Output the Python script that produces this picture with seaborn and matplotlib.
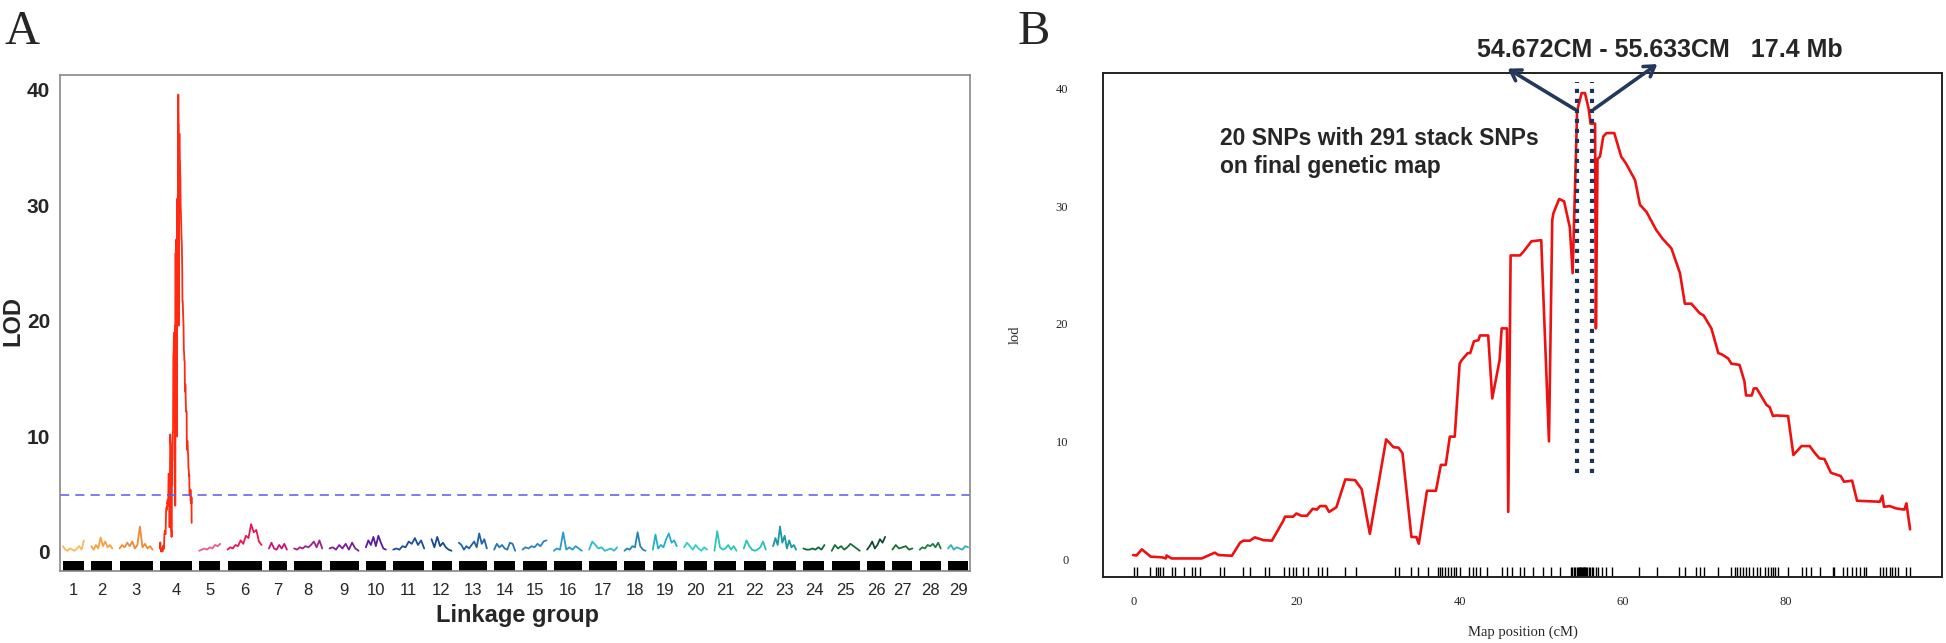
import numpy as np
import pandas as pd
import matplotlib.pyplot as plt
import seaborn as sns

# ---------------- panel B data: LOD profile on linkage group 4 ----------------
qtl_pos = [0, 0.4, 1.06, 2.15, 3.5, 4.0, 4.1, 4.7, 8.4, 9.2,
           10.0, 10.45, 12.1, 13.1, 13.5, 14.3, 14.9, 16.0, 17.0, 18.4,
           18.6, 19.6, 20.0, 20.6, 21.3, 22.0, 22.5, 22.9, 23.6, 24.0,
           24.9, 26.0, 27.2, 28.0, 29.0, 31.0, 31.9, 32.5, 33.0, 34.1,
           34.7, 35.0, 36.0, 37.1, 37.7, 38.3, 38.8, 39.4, 40.0, 40.25,
           41.0, 41.3, 41.75, 42.3, 42.5, 43.5, 44.0, 44.9, 45.15, 45.8,
           45.96, 46.25, 47.4, 47.8, 48.8, 50.0, 50.95, 51.35, 51.5, 52.2,
           52.8, 53.5, 53.85, 54.4, 54.95, 55.36, 55.8, 56.05, 56.6, 56.7,
           56.9, 57.2, 57.6, 58.0, 58.95, 59.8, 60.4, 61.5, 62.1, 62.9,
           64.1, 64.9, 65.95, 67.0, 67.6, 68.4, 69.4, 69.9, 70.85, 71.7,
           72.1, 72.9, 73.3, 74.3, 74.9, 75.1, 75.8, 76.05, 76.4, 77.0,
           77.6, 78.0, 78.4, 78.8, 80.25, 80.9, 81.9, 82.9, 83.5, 84.1,
           84.7, 85.5, 86.7, 87.1, 88.1, 88.7, 91.5, 91.8, 92.0, 92.7,
           93.5, 94.5, 94.75, 95.2]
qtl_lod = [0.34, 0.3, 0.82, 0.2, 0.15, 0.05, 0.3, 0.05, 0.05, 0.3,
           0.54, 0.34, 0.28, 1.39, 1.56, 1.56, 1.84, 1.6, 1.56, 3.26,
           3.6, 3.6, 3.87, 3.68, 3.68, 4.27, 4.2, 4.5, 4.5, 4.0,
           4.4, 6.77, 6.7, 5.93, 2.14, 10.17, 9.5, 9.47, 9.0, 1.87,
           1.87, 1.3, 5.8, 5.8, 8.0, 8.0, 10.4, 10.4, 16.6, 16.9,
           17.5, 17.5, 18.5, 18.6, 19.0, 19.0, 13.65, 16.9, 19.6, 19.6,
           4.0, 25.8, 25.8, 26.1, 27.0, 27.1, 10.0, 28.8, 29.4, 30.6,
           30.4, 28.2, 24.3, 38.1, 39.6, 39.6, 38.3, 37.0, 37.0, 19.6,
           34.0, 34.2, 35.9, 36.2, 36.2, 34.2, 33.6, 32.2, 30.1, 29.5,
           27.95, 27.2, 26.4, 24.3, 21.7, 21.7, 20.9, 20.7, 19.6, 17.5,
           17.4, 17.05, 16.6, 16.5, 15.1, 13.9, 13.9, 14.5, 14.5, 13.8,
           13.1, 12.9, 12.15, 12.2, 12.15, 8.84, 9.6, 9.6, 9.03, 8.55,
           8.5, 7.33, 7.05, 6.57, 6.66, 4.95, 4.87, 5.38, 4.44, 4.5,
           4.3, 4.2, 4.73, 2.52]
marker_pos = [0.04, 0.45, 2.08, 2.82, 3.1, 3.3, 3.7, 4.7, 5.1, 6.2, 7.2, 7.6, 8.2,
              10.6, 11.1, 13.5, 14.3, 16.2, 16.7, 18.5, 19.1, 19.6, 20.0, 20.8,
              21.4, 22.6, 23.1, 23.7, 26.0, 27.3, 32.1, 32.6, 34.1, 34.9, 36.1,
              37.3, 37.6, 37.9, 38.2, 38.6, 38.9, 39.3, 39.6, 40.0, 41.2, 41.6,
              42.0, 42.5, 43.4, 45.2, 45.8, 46.4, 47.4, 47.9, 49.0, 50.2, 51.2,
              52.3, 53.6, 53.8, 54.0, 54.2, 54.4, 54.5, 54.6, 54.7, 54.8, 54.9,
              55.0, 55.1, 55.2, 55.3, 55.4, 55.5, 55.6, 55.8, 56.0, 56.2, 56.4,
              56.7, 57.0, 57.4, 57.9, 58.7, 62.0, 64.2, 66.9, 67.6, 69.0, 69.4,
              69.9, 71.7, 73.3, 73.7, 74.0, 74.3, 74.7, 75.1, 75.5, 76.0, 76.4,
              76.8, 77.4, 77.8, 78.1, 78.4, 78.7, 79.0, 80.3, 82.0, 82.5, 83.1,
              84.2, 85.7, 85.9, 87.0, 87.5, 88.1, 88.6, 89.1, 89.5, 89.8, 91.5,
              91.9, 92.3, 92.7, 93.0, 93.3, 93.7, 94.7, 95.2]
interval_cm = [54.4, 56.2]
interval_label = "54.672CM - 55.633CM   17.4 Mb"
snp_label = "20 SNPs with 291 stack SNPs\non final genetic map"

# ---------------- panel A data: genome-wide scan ----------------
lg_names = [str(i) for i in range(1, 30)]
lg_lengths = [63, 63, 99, 96, 63, 102, 54, 84, 87, 60, 93, 60, 84, 63, 72,
              84, 84, 63, 72, 69, 66, 66, 69, 63, 84, 54, 60, 63, 60]
lg_gap = 22
lod_threshold = 4.9
lg_colors = ['#f8b95a', '#f5a23f', '#f08a35', '#ff2a12', '#ef5a86', '#e8174c',
             '#c8147a', '#a0208a', '#7a2090', '#5a1e9a', '#1f4e9a', '#1a4a8c',
             '#2062a8', '#2476b8', '#2a84be', '#2a9ac8', '#30bcc8', '#2585b5',
             '#22b0c8', '#30d0c8', '#28c8b8', '#28c2b8', '#1a9aa0', '#0e6a3a',
             '#16703e', '#124a3a', '#1a6e3a', '#1e7a40', '#30b0c0']

lod_lg01 = [0.5, 0.2, 0.1, 0.3, 0.2, 0.1, 0.3, 0.5, 0.2, 1.0]
lod_lg02 = [0.5, 0.2, 0.6, 0.3, 1.25, 0.5, 0.9, 0.4, 0.6, 0.3]
lod_lg03 = [0.3, 0.6, 0.4, 0.8, 0.5, 0.9, 0.3, 0.6, 2.2, 0.4, 0.7, 0.3, 0.5, 0.2]
lod_lg05 = [0.1, 0.2, 0.3, 0.2, 0.4, 0.3, 0.6, 0.5, 0.7]
lod_lg06 = [0.2, 0.4, 0.3, 0.6, 0.5, 1.0, 0.7, 1.4, 1.2, 2.4, 1.7, 1.9, 0.9, 0.6]
lod_lg07 = [0.3, 0.8, 0.3, 0.2, 0.6, 0.3, 0.7, 0.2]
lod_lg08 = [0.3, 0.2, 0.4, 0.3, 0.5, 0.4, 0.6, 0.9, 0.4, 1.0, 0.3]
lod_lg09 = [0.3, 0.4, 0.2, 0.6, 0.3, 0.7, 0.2, 0.8, 0.3, 0.1]
lod_lg10 = [0.4, 1.0, 0.6, 1.3, 0.5, 1.4, 0.8, 0.3, 0.2]
lod_lg11 = [0.2, 0.3, 0.2, 0.5, 0.4, 0.9, 0.7, 1.2, 0.6, 1.0, 0.3]
lod_lg12 = [1.1, 0.4, 1.3, 0.5, 0.8, 0.4, 0.2, 0.1]
lod_lg13 = [0.8, 0.6, 0.2, 0.5, 0.3, 0.6, 0.9, 0.4, 1.6, 0.7, 1.1, 0.3]
lod_lg14 = [0.2, 0.7, 0.4, 0.6, 0.3, 0.2, 0.8, 0.7, 0.1]
lod_lg15 = [0.2, 0.4, 0.3, 0.5, 0.4, 0.7, 0.5, 0.9, 1.0]
lod_lg16 = [0.1, 0.3, 0.2, 1.7, 0.2, 0.4, 0.2, 0.5, 0.3, 0.1]
lod_lg17 = [0.2, 0.9, 0.6, 0.3, 0.4, 0.1, 0.2, 0.3, 0.1, 0.4]
lod_lg18 = [0.1, 0.3, 0.2, 0.5, 0.4, 1.7, 0.5, 0.2, 0.1]
lod_lg19 = [0.2, 1.5, 0.3, 0.6, 0.4, 1.1, 1.6, 0.8, 1.0, 0.5]
lod_lg20 = [0.4, 0.8, 0.5, 0.2, 0.6, 0.3, 0.1, 0.4, 0.2]
lod_lg21 = [0.1, 1.8, 0.4, 0.2, 0.3, 0.6, 0.2, 0.5, 0.1]
lod_lg22 = [0.3, 1.0, 0.5, 0.2, 0.1, 0.2, 0.4, 0.9, 0.2]
lod_lg23 = [0.5, 1.2, 0.6, 2.2, 0.8, 1.4, 0.3, 1.0, 0.4, 0.6, 0.2]
lod_lg24 = [0.3, 0.2, 0.2, 0.3, 0.2, 0.4, 0.2, 0.6]
lod_lg25 = [0.1, 0.6, 0.3, 0.5, 0.2, 0.4, 0.7, 0.5, 0.3, 0.1]
lod_lg26 = [0.2, 0.5, 0.9, 0.3, 0.6, 1.1, 0.8, 1.3]
lod_lg27 = [0.2, 0.6, 0.3, 0.4, 0.5, 0.2, 0.3]
lod_lg28 = [0.2, 0.4, 0.3, 0.6, 0.5, 0.7, 0.4, 0.8, 0.3]
lod_lg29 = [0.3, 0.6, 0.2, 0.4, 0.3, 0.2, 0.5, 0.4]

# LG4 in panel A is the same scan as panel B
lg_lod = [lod_lg01, lod_lg02, lod_lg03, None, lod_lg05, lod_lg06, lod_lg07,
          lod_lg08, lod_lg09, lod_lg10, lod_lg11, lod_lg12, lod_lg13, lod_lg14,
          lod_lg15, lod_lg16, lod_lg17, lod_lg18, lod_lg19, lod_lg20, lod_lg21,
          lod_lg22, lod_lg23, lod_lg24, lod_lg25, lod_lg26, lod_lg27, lod_lg28,
          lod_lg29]

sns.set_style("white")
narrow = ['Liberation Sans Narrow', 'Liberation Sans', 'DejaVu Sans']
serif = ['Liberation Serif', 'DejaVu Serif']
arial = ['Liberation Sans', 'DejaVu Sans']

fig = plt.figure(figsize=(19.46, 6.43), dpi=100)

# ================= Panel A =================
axA = fig.add_axes([0.0308, 0.1120, 0.4677, 0.7714])
offsets = np.concatenate([[0], np.cumsum(np.array(lg_lengths[:-1]) + lg_gap)])

for i, (name, L, col) in enumerate(zip(lg_names, lg_lengths, lg_colors)):
    if lg_lod[i] is None:
        xs = offsets[i] + np.array(qtl_pos)
        ys = np.array(qtl_lod)
    else:
        ys = np.array(lg_lod[i])
        xs = offsets[i] + np.linspace(0, L, len(ys))
    df = pd.DataFrame({'pos': xs, 'lod': ys})
    sns.lineplot(data=df, x='pos', y='lod', ax=axA, color=col, lw=1.3,
                 estimator=None, sort=False)

# marker bars along the bottom
axA.bar(offsets + np.array(lg_lengths) / 2, 0.87, width=lg_lengths,
        bottom=-1.65, color='black', edgecolor='none')
axA.axhline(lod_threshold, color='#5a5ae6', lw=1.1, ls=(0, (6, 4)))

axA.set_xlim(-9, offsets[-1] + lg_lengths[-1] + 6)
axA.set_ylim(-1.65, 41.3)
axA.set_xticks(offsets + np.array(lg_lengths) / 2)
axA.set_xticklabels(lg_names, family=narrow, fontsize=12)
axA.set_yticks([0, 10, 20, 30, 40])
axA.set_yticklabels(['0', '10', '20', '30', '40'], family=narrow,
                    fontsize=15, fontweight='bold')
axA.tick_params(axis='x', length=6, width=1, color='#555555', pad=3)
axA.tick_params(axis='y', length=5, width=1, color='#555555', pad=2)
for s in axA.spines.values():
    s.set_color('#888888')
    s.set_linewidth(1.2)
axA.set_xlabel('')
axA.set_ylabel('')
fig.text(0.0065, 0.50, 'LOD', rotation=90, ha='center', va='center',
         family=narrow, fontsize=17, fontweight='bold')
fig.text(0.266, 0.043, 'Linkage group', ha='center', va='center',
         family=narrow, fontsize=17, fontweight='bold')
fig.text(0.0025, 0.985, 'A', ha='left', va='top', family=serif, fontsize=35)

# ================= Panel B =================
axB = fig.add_axes([0.5668, 0.1026, 0.4311, 0.7838])
dfb = pd.DataFrame({'pos': qtl_pos, 'lod': qtl_lod})
sns.lineplot(data=dfb, x='pos', y='lod', ax=axB, color='#ee1111', lw=1.9,
             estimator=None, sort=False)
sns.rugplot(x=marker_pos, ax=axB, height=0.02, color='black', lw=0.8)

for xc in interval_cm:
    axB.plot([xc, xc], [7.3, 40.5], color='#1b3558', lw=3.0,
             ls=(0, (1.0, 1.4)), solid_capstyle='butt')

navy = '#23395b'
axB.annotate('', xy=(45.6, 41.8), xytext=(54.4, 38.1), annotation_clip=False,
             arrowprops=dict(arrowstyle='->,head_length=0.7,head_width=0.45',
                             color=navy, lw=2.6))
axB.annotate('', xy=(64.5, 42.2), xytext=(56.2, 38.1), annotation_clip=False,
             arrowprops=dict(arrowstyle='->,head_length=0.7,head_width=0.45',
                             color=navy, lw=2.6))

fig.text(0.7590, 0.922, interval_label, ha='left', va='center', family=arial,
         fontsize=18, fontweight='bold')
fig.text(0.6270, 0.763, snp_label, ha='left', va='center', family=arial,
         fontsize=16.5, fontweight='bold', linespacing=1.3)

axB.set_xlim(-3.7, 99.1)
axB.set_ylim(-1.53, 41.3)
axB.set_xticks([0, 20, 40, 60, 80])
axB.set_xticklabels(['0', '20', '40', '60', '80'], family=serif, fontsize=9)
axB.set_yticks([0, 10, 20, 30, 40])
axB.set_yticklabels(['0', '10', '20', '30', '40'], family=serif, fontsize=9)
axB.tick_params(axis='x', length=6, width=1, color='black', pad=8)
axB.tick_params(axis='y', length=9, width=1, color='black', pad=16)
for s in axB.spines.values():
    s.set_color('#222222')
    s.set_linewidth(1.4)
axB.set_xlabel('')
axB.set_ylabel('')
axB.text(0.5, -0.109, 'Map position (cM)', transform=axB.transAxes,
         ha='center', va='center', family=serif, fontsize=10.5)
axB.text(-0.105, 0.48, 'lod', transform=axB.transAxes, rotation=90,
         ha='center', va='center', family=serif, fontsize=10.5)
fig.text(0.523, 0.985, 'B', ha='left', va='top', family=serif, fontsize=35)

fig.savefig('out.png', dpi=100, facecolor='white')
